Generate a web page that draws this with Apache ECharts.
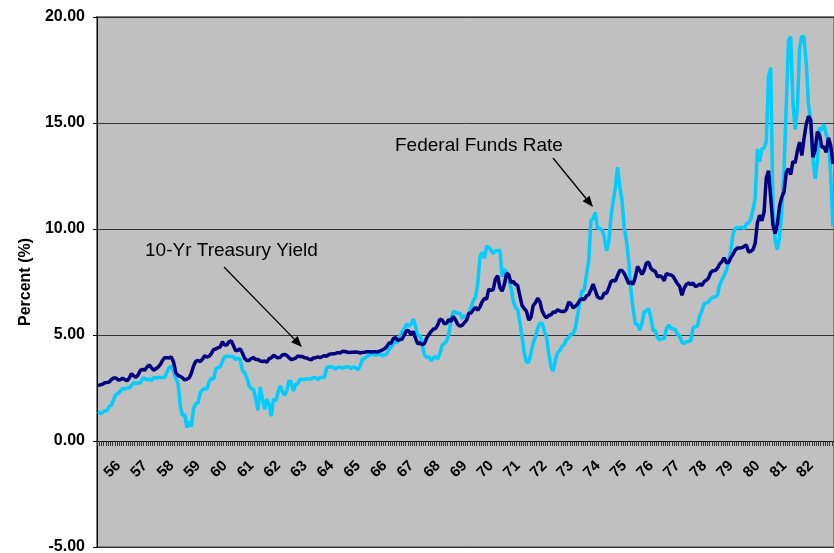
<!DOCTYPE html>
<html>
<head>
<meta charset="utf-8">
<script src="https://cdn.jsdelivr.net/npm/echarts@6/dist/echarts.min.js"></script>
<style>
  html, body { margin: 0; padding: 0; background: #fff; }
  #chart { width: 834px; height: 553px; }
</style>
</head>
<body>
<div id="chart"></div>
<script>
// Monthly averages, Jan 1955 - Aug 1982
const startYear = 1955;

const fedFunds = [
  1.39, 1.29, 1.35, 1.43, 1.43, 1.64, 1.68, 1.96, 2.18, 2.24, 2.35, 2.48,
  2.45, 2.50, 2.50, 2.62, 2.75, 2.71, 2.75, 2.73, 2.95, 2.96, 2.88, 2.94,
  2.84, 3.00, 2.96, 3.00, 3.00, 3.00, 2.99, 3.24, 3.47, 3.50, 3.28, 2.98,
  2.72, 1.67, 1.20, 1.26, 0.63, 0.93, 0.68, 1.53, 1.76, 1.80, 2.27, 2.42,
  2.48, 2.43, 2.80, 2.96, 2.90, 3.39, 3.47, 3.50, 3.76, 3.98, 4.00, 3.99,
  3.99, 3.97, 3.84, 3.92, 3.85, 3.32, 3.23, 2.98, 2.60, 2.47, 2.44, 1.98,
  1.45, 2.54, 2.02, 1.49, 1.98, 1.73, 1.17, 2.00, 1.88, 2.26, 2.61, 2.33,
  2.15, 2.37, 2.85, 2.78, 2.36, 2.68, 2.71, 2.93, 2.90, 2.90, 2.94, 2.93,
  2.92, 3.00, 2.98, 2.90, 3.00, 2.99, 3.02, 3.49, 3.48, 3.50, 3.48, 3.38,
  3.48, 3.48, 3.43, 3.47, 3.50, 3.50, 3.42, 3.50, 3.45, 3.36, 3.52, 3.85,
  3.90, 3.98, 4.04, 4.09, 4.10, 4.04, 4.09, 4.12, 4.01, 4.08, 4.10, 4.32,
  4.42, 4.60, 4.65, 4.67, 4.90, 5.17, 5.30, 5.53, 5.40, 5.53, 5.76, 5.40,
  4.94, 5.00, 4.53, 4.05, 3.94, 3.98, 3.79, 3.90, 3.99, 3.88, 4.13, 4.51,
  4.61, 4.71, 5.05, 5.76, 6.11, 6.07, 6.02, 6.03, 5.78, 5.91, 5.82, 6.02,
  6.30, 6.61, 6.79, 7.41, 8.67, 8.90, 8.61, 9.19, 9.15, 9.00, 8.85, 8.97,
  8.98, 8.98, 7.76, 8.10, 7.95, 7.61, 7.21, 6.61, 6.29, 6.20, 5.60, 4.90,
  4.14, 3.72, 3.71, 4.16, 4.63, 4.91, 5.31, 5.56, 5.55, 5.20, 4.91, 4.14,
  3.50, 3.29, 3.83, 4.17, 4.27, 4.46, 4.55, 4.80, 4.87, 5.04, 5.06, 5.33,
  5.94, 6.58, 7.09, 7.12, 7.84, 8.49, 10.40, 10.50, 10.78, 10.01, 10.03, 9.95,
  9.65, 8.97, 9.35, 10.51, 11.31, 11.93, 12.92, 12.01, 11.34, 10.06, 9.45, 8.53,
  7.13, 6.24, 5.54, 5.49, 5.22, 5.55, 6.10, 6.14, 6.24, 5.82, 5.22, 5.20,
  4.87, 4.77, 4.84, 4.82, 5.29, 5.48, 5.31, 5.29, 5.25, 5.02, 4.95, 4.65,
  4.61, 4.68, 4.69, 4.73, 5.35, 5.39, 5.42, 5.90, 6.14, 6.47, 6.51, 6.56,
  6.70, 6.78, 6.79, 6.89, 7.36, 7.60, 7.81, 8.04, 8.45, 8.96, 9.76, 10.03,
  10.07, 10.06, 10.09, 10.01, 10.24, 10.29, 10.47, 10.94, 11.43, 13.77, 13.18, 13.78,
  13.82, 14.13, 17.19, 17.61, 10.98, 9.47, 9.03, 9.61, 10.87, 12.81, 15.85, 18.90,
  19.08, 15.93, 14.70, 15.72, 18.52, 19.10, 19.04, 17.82, 15.87, 15.08, 13.31, 12.37,
  13.22, 14.78, 14.68, 14.94, 14.45, 14.15, 12.59, 10.12
];

const treasury10 = [
  2.61, 2.65, 2.68, 2.75, 2.76, 2.78, 2.90, 2.97, 2.97, 2.88, 2.89, 2.96,
  2.90, 2.84, 2.96, 3.18, 3.07, 3.00, 3.11, 3.33, 3.38, 3.34, 3.49, 3.59,
  3.46, 3.34, 3.41, 3.48, 3.60, 3.80, 3.93, 3.93, 3.92, 3.97, 3.72, 3.21,
  3.09, 3.05, 2.98, 2.88, 2.92, 2.97, 3.20, 3.54, 3.76, 3.80, 3.74, 3.86,
  4.02, 3.96, 3.99, 4.12, 4.31, 4.34, 4.40, 4.43, 4.68, 4.53, 4.53, 4.69,
  4.72, 4.49, 4.25, 4.28, 4.35, 4.15, 3.90, 3.80, 3.80, 3.89, 3.93, 3.84,
  3.84, 3.78, 3.74, 3.78, 3.71, 3.88, 3.92, 4.04, 3.98, 3.92, 3.94, 4.06,
  4.08, 4.04, 3.93, 3.84, 3.87, 3.91, 4.01, 3.98, 3.98, 3.93, 3.92, 3.86,
  3.83, 3.92, 3.93, 3.97, 3.93, 3.99, 4.02, 4.00, 4.08, 4.11, 4.12, 4.13,
  4.17, 4.15, 4.22, 4.23, 4.20, 4.17, 4.19, 4.19, 4.20, 4.19, 4.15, 4.18,
  4.19, 4.21, 4.21, 4.20, 4.21, 4.21, 4.20, 4.25, 4.29, 4.35, 4.45, 4.62,
  4.61, 4.83, 4.87, 4.75, 4.78, 4.81, 5.02, 5.22, 5.18, 5.01, 5.16, 4.84,
  4.58, 4.63, 4.54, 4.59, 4.85, 5.02, 5.16, 5.28, 5.30, 5.48, 5.75, 5.70,
  5.53, 5.56, 5.74, 5.64, 5.87, 5.72, 5.50, 5.42, 5.46, 5.58, 5.70, 6.03,
  6.04, 6.19, 6.30, 6.17, 6.32, 6.57, 6.72, 6.69, 7.16, 7.10, 7.14, 7.65,
  7.79, 7.24, 7.07, 7.39, 7.91, 7.84, 7.46, 7.53, 7.39, 7.33, 6.84, 6.39,
  6.24, 6.11, 5.70, 5.83, 6.39, 6.52, 6.73, 6.58, 6.14, 5.93, 5.81, 5.93,
  5.95, 6.08, 6.07, 6.19, 6.13, 6.11, 6.11, 6.21, 6.55, 6.48, 6.28, 6.36,
  6.46, 6.64, 6.71, 6.67, 6.85, 6.90, 7.13, 7.40, 7.09, 6.79, 6.73, 6.74,
  6.99, 6.96, 7.21, 7.51, 7.58, 7.54, 7.81, 8.04, 8.04, 7.90, 7.68, 7.43,
  7.50, 7.39, 7.73, 8.23, 8.06, 7.86, 8.06, 8.40, 8.43, 8.14, 8.05, 8.00,
  7.74, 7.79, 7.73, 7.56, 7.90, 7.86, 7.83, 7.77, 7.59, 7.41, 7.29, 6.87,
  7.21, 7.39, 7.46, 7.37, 7.46, 7.28, 7.33, 7.40, 7.34, 7.52, 7.58, 7.69,
  7.96, 8.03, 8.04, 8.15, 8.35, 8.46, 8.64, 8.41, 8.42, 8.64, 8.81, 9.01,
  9.10, 9.10, 9.12, 9.18, 9.25, 8.91, 8.95, 9.03, 9.33, 10.30, 10.65, 10.39,
  10.80, 12.41, 12.75, 11.47, 10.18, 9.78, 10.25, 11.10, 11.51, 11.75, 12.68, 12.84,
  12.57, 13.19, 13.12, 13.68, 14.10, 13.47, 14.28, 14.94, 15.32, 15.15, 13.39, 13.72,
  14.59, 14.43, 13.86, 13.87, 13.62, 14.30, 13.95, 13.06
];

const yTicks = [-5, 0, 5, 10, 15, 20];

// month categories like "1955-01"
const months = fedFunds.map((v, i) => {
  const y = startYear + Math.floor(i / 12);
  const m = (i % 12) + 1;
  return y + '-' + (m < 10 ? '0' + m : m);
});

const FONT = '"Liberation Sans", Arial, sans-serif';
const chart = echarts.init(document.getElementById('chart'));

const gridTop = 17, gridBottom = 6;
const plotH = 553 - gridTop - gridBottom;
// x axis sits at y = 0, so lift it from the bottom edge
const zeroOffset = plotH * (0 - yTicks[0]) / (yTicks[yTicks.length - 1] - yTicks[0]);

// arrow: line plus filled head, in pixels
function arrow(x1, y1, x2, y2) {
  const ang = Math.atan2(y2 - y1, x2 - x1);
  const len = 11, half = 4.5;
  const bx = x2 - len * Math.cos(ang), by = y2 - len * Math.sin(ang);
  const px = -Math.sin(ang) * half, py = Math.cos(ang) * half;
  return [
    { type: 'line', shape: { x1: x1, y1: y1, x2: bx, y2: by }, style: { stroke: '#000', lineWidth: 1.3 }, z: 100 },
    { type: 'polygon', shape: { points: [[x2, y2], [bx + px, by + py], [bx - px, by - py]] }, style: { fill: '#000' }, z: 100 }
  ];
}

const option = {
  animation: false,
  backgroundColor: '#fff',
  grid: {
    left: 97, right: 0, top: gridTop, bottom: gridBottom,
    outerBoundsMode: 'none',
    containLabel: false,
    show: true,
    backgroundColor: '#C0C0C0',
    borderColor: '#808080',
    borderWidth: 2
  },
  xAxis: {
    type: 'category',
    data: months,
    boundaryGap: true,
    position: 'bottom',
    offset: -zeroOffset,
    axisLine: { onZero: false, lineStyle: { color: '#000', width: 1 } },
    axisTick: { show: true, interval: 0, length: 5, lineStyle: { color: '#333', width: 1 } },
    axisLabel: {
      interval: (idx) => idx > 0 && idx % 12 === 0,
      formatter: (v) => v.slice(2, 4),
      rotate: 45,
      margin: 16,
      padding: [0, 9, 0, 0],
      color: '#000',
      fontFamily: FONT,
      fontWeight: 'bold',
      fontSize: 15,
      hideOverlap: false
    },
    splitLine: { show: false }
  },
  yAxis: {
    type: 'value',
    min: yTicks[0],
    max: yTicks[yTicks.length - 1],
    interval: 5,
    name: 'Percent (%)',
    nameLocation: 'middle',
    nameRotate: 90,
    nameGap: 59,
    nameTextStyle: { color: '#000', fontFamily: FONT, fontWeight: 'bold', fontSize: 16 },
    axisLine: { show: true, lineStyle: { color: '#000', width: 1 } },
    axisTick: { show: true, length: 4, lineStyle: { color: '#000' } },
    axisLabel: {
      formatter: (v) => v.toFixed(2),
      color: '#000',
      fontFamily: FONT,
      fontWeight: 'bold',
      fontSize: 16,
      margin: 12
    },
    splitLine: { show: true, lineStyle: { color: '#333', width: 1 } }
  },
  series: [
    {
      name: 'Federal Funds Rate',
      type: 'line',
      data: fedFunds,
      showSymbol: false,
      symbol: 'none',
      lineStyle: { color: '#00CCFF', width: 3.5 },
      z: 3
    },
    {
      name: '10-Yr Treasury Yield',
      type: 'line',
      data: treasury10,
      showSymbol: false,
      symbol: 'none',
      lineStyle: { color: '#000080', width: 3.5 },
      z: 4
    }
  ],
  graphic: [
    { type: 'text', left: 145, top: 241, z: 100,
      style: { text: '10-Yr Treasury Yield', fill: '#000', font: '19px ' + FONT } },
    { type: 'text', left: 395, top: 136, z: 100,
      style: { text: 'Federal Funds Rate', fill: '#000', font: '19px ' + FONT } }
  ].concat(arrow(224, 267, 302, 347), arrow(553, 158, 593, 207))
};

chart.setOption(option);
</script>
</body>
</html>
